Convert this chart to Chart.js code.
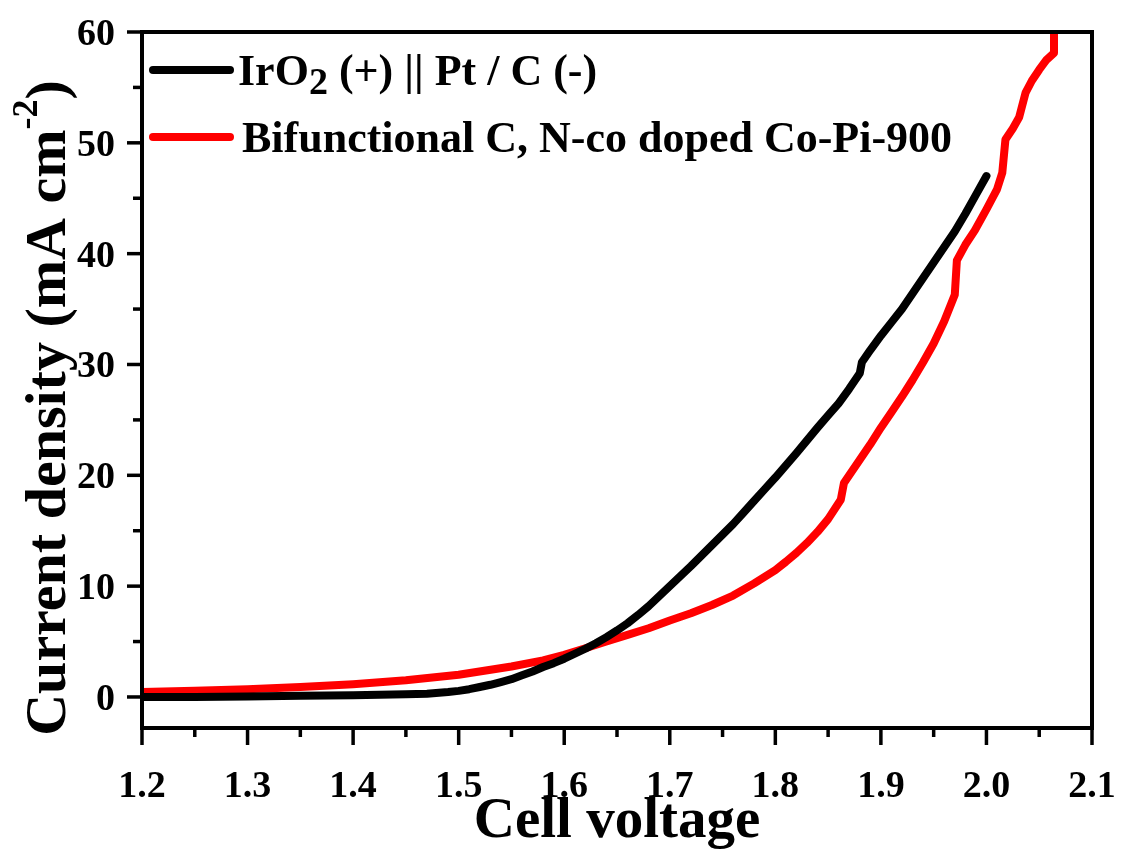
<!DOCTYPE html>
<html>
<head>
<meta charset="utf-8">
<script src="https://cdn.jsdelivr.net/npm/chart.js@4.4.1/dist/chart.umd.min.js"></script>
<style>
  html, body { margin: 0; padding: 0; background: #fff; }
  #wrap { width: 1124px; height: 849px; }
</style>
</head>
<body>
<div id="wrap"><canvas id="jv"></canvas></div>
<script>
// Data
const voltageIrO2 = [1.2, 1.25, 1.3, 1.35, 1.4, 1.45, 1.47, 1.49, 1.5, 1.51, 1.52, 1.53, 1.54, 1.55, 1.56, 1.57, 1.58, 1.59, 1.6, 1.61, 1.62, 1.63, 1.64, 1.65, 1.66, 1.67, 1.68, 1.69, 1.7, 1.71, 1.72, 1.73, 1.74, 1.75, 1.76, 1.77, 1.78, 1.79, 1.8, 1.81, 1.82, 1.83, 1.84, 1.85, 1.86, 1.87, 1.88, 1.882, 1.89, 1.9, 1.91, 1.92, 1.93, 1.94, 1.95, 1.96, 1.97, 1.98, 1.99, 2.0];
const currentIrO2 = [0.0, 0.0, 0.05, 0.1, 0.15, 0.25, 0.3, 0.45, 0.55, 0.7, 0.9, 1.1, 1.35, 1.6, 1.95, 2.3, 2.7, 3.05, 3.45, 3.9, 4.35, 4.85, 5.4, 6.0, 6.65, 7.4, 8.2, 9.1, 10.0, 10.9, 11.8, 12.75, 13.7, 14.65, 15.6, 16.65, 17.7, 18.75, 19.8, 20.9, 22.0, 23.15, 24.3, 25.4, 26.5, 27.8, 29.2, 30.2, 31.3, 32.6, 33.8, 35.0, 36.4, 37.8, 39.2, 40.6, 42.0, 43.6, 45.3, 47.0];

const voltageCoPi = [1.2, 1.25, 1.3, 1.35, 1.4, 1.45, 1.5, 1.55, 1.58, 1.6, 1.62, 1.64, 1.66, 1.68, 1.7, 1.72, 1.74, 1.76, 1.78, 1.8, 1.81, 1.82, 1.83, 1.84, 1.85, 1.862, 1.865, 1.87, 1.88, 1.89, 1.9, 1.91, 1.92, 1.93, 1.94, 1.95, 1.96, 1.97, 1.972, 1.98, 1.989, 2.0, 2.01, 2.015, 2.018, 2.025, 2.031, 2.037, 2.043, 2.05, 2.057, 2.064, 2.064];
const currentCoPi = [0.45, 0.55, 0.7, 0.9, 1.15, 1.5, 2.0, 2.75, 3.3, 3.8, 4.4, 5.0, 5.6, 6.2, 6.9, 7.55, 8.3, 9.15, 10.25, 11.45, 12.2, 13.0, 13.9, 14.9, 16.05, 17.8, 19.3, 20.0, 21.4, 22.8, 24.3, 25.7, 27.1, 28.6, 30.2, 31.9, 33.9, 36.3, 39.4, 40.8, 42.1, 44.0, 45.8, 47.3, 50.3, 51.3, 52.3, 54.5, 55.6, 56.6, 57.5, 58.1, 62.0];

const seriesNames = ['IrO2 (+) || Pt / C (-)', 'Bifunctional C, N-co doped Co-Pi-900'];
const seriesColors = ['#000000', '#ff0000'];

const xTicks = [1.2, 1.25, 1.3, 1.35, 1.4, 1.45, 1.5, 1.55, 1.6, 1.65, 1.7, 1.75, 1.8, 1.85, 1.9, 1.95, 2.0, 2.05, 2.1];
const yTicks = [0, 5, 10, 15, 20, 25, 30, 35, 40, 45, 50, 55, 60];

const serif = '"Liberation Serif", "Times New Roman", serif';

function toPoints(xs, ys) {
    return xs.map((v, i) => ({ x: v, y: ys[i] }));
}

const isMajorX = v => Math.round(v * 100) % 10 === 0;
const isMajorY = v => v % 10 === 0;

// frame, tick marks, tick labels, titles and legend
const decorations = {
    id: 'decorations',
    afterDraw(chart) {
        const { ctx, chartArea: a, scales: { x, y } } = chart;
        ctx.save();
        ctx.strokeStyle = '#000';
        ctx.fillStyle = '#000';
        ctx.lineWidth = 4;
        ctx.strokeRect(a.left, a.top, a.right - a.left, a.bottom - a.top);

        ctx.lineWidth = 3.5;
        ctx.font = 'bold 38px ' + serif;
        x.ticks.forEach(t => {
            const px = x.getPixelForValue(t.value);
            const major = isMajorX(t.value);
            ctx.beginPath();
            ctx.moveTo(px, a.bottom);
            ctx.lineTo(px, a.bottom + (major ? 17 : 9));
            ctx.stroke();
            if (major) {
                ctx.textAlign = 'center';
                ctx.textBaseline = 'alphabetic';
                ctx.fillText(t.value.toFixed(1), px, a.bottom + 69);
            }
        });
        y.ticks.forEach(t => {
            const py = y.getPixelForValue(t.value);
            const major = isMajorY(t.value);
            ctx.beginPath();
            ctx.moveTo(a.left, py);
            ctx.lineTo(a.left - (major ? 15 : 9), py);
            ctx.stroke();
            if (major) {
                ctx.textAlign = 'right';
                ctx.textBaseline = 'alphabetic';
                ctx.fillText(String(t.value), a.left - 27, py + 13);
            }
        });

        // x title
        ctx.font = 'bold 57px ' + serif;
        ctx.textAlign = 'center';
        ctx.textBaseline = 'alphabetic';
        ctx.fillText('Cell voltage', (a.left + a.right) / 2, 837);

        // y title with superscript
        ctx.save();
        ctx.translate(65, 408);
        ctx.rotate(-Math.PI / 2);
        ctx.textAlign = 'left';
        const big = 'bold 58px ' + serif;
        const small = 'bold 36px ' + serif;
        ctx.font = big;
        const p1 = 'Current density (mA cm';
        const w1 = ctx.measureText(p1).width;
        const w3 = ctx.measureText(')').width;
        ctx.font = small;
        const w2 = ctx.measureText('-2').width;
        let cx = -(w1 + w2 + w3) / 2;
        ctx.font = big;
        ctx.fillText(p1, cx, 0);
        cx += w1;
        ctx.font = small;
        ctx.fillText('-2', cx, -28);
        cx += w2;
        ctx.font = big;
        ctx.fillText(')', cx, 0);
        ctx.restore();

        // legend
        const rows = [70, 137];
        const bases = [85, 152];
        ctx.lineWidth = 8;
        ctx.lineCap = 'round';
        rows.forEach((ry, i) => {
            ctx.strokeStyle = seriesColors[i];
            ctx.beginPath();
            ctx.moveTo(153, ry);
            ctx.lineTo(230, ry);
            ctx.stroke();
        });
        ctx.textAlign = 'left';
        ctx.font = 'bold 44px ' + serif;
        let lx = 238;
        ctx.fillText('IrO', lx, bases[0]);
        lx += ctx.measureText('IrO').width;
        ctx.font = 'bold 38px ' + serif;
        ctx.fillText('2', lx, bases[0] + 9);
        lx += ctx.measureText('2').width;
        ctx.font = 'bold 44px ' + serif;
        ctx.fillText(' (+) || Pt / C (-)', lx, bases[0]);
        ctx.fillText(seriesNames[1], 242, bases[1]);
        ctx.restore();
    }
};

new Chart(document.getElementById('jv'), {
    type: 'line',
    data: {
        datasets: [{
            label: seriesNames[0],
            data: toPoints(voltageIrO2, currentIrO2),
            borderColor: seriesColors[0],
            borderWidth: 8,
            pointRadius: 0,
            tension: 0,
            borderCapStyle: 'round',
            borderJoinStyle: 'round',
            clip: 0
        }, {
            label: seriesNames[1],
            data: toPoints(voltageCoPi, currentCoPi),
            borderColor: seriesColors[1],
            borderWidth: 8,
            pointRadius: 0,
            tension: 0,
            borderCapStyle: 'round',
            borderJoinStyle: 'round',
            clip: 0
        }]
    },
    options: {
        responsive: true,
        maintainAspectRatio: false,
        animation: false,
        layout: { padding: { top: 32, right: 32, left: 0, bottom: 0 } },
        plugins: {
            legend: { display: false },
            tooltip: { enabled: false }
        },
        scales: {
            x: {
                type: 'linear',
                min: 1.2,
                max: 2.1,
                afterBuildTicks: scale => { scale.ticks = xTicks.map(v => ({ value: v })); },
                afterFit: scale => { scale.height = 121; },
                grid: { display: false },
                border: { display: false },
                ticks: { display: false }
            },
            y: {
                min: -2.8,
                max: 60,
                afterBuildTicks: scale => { scale.ticks = yTicks.map(v => ({ value: v })); },
                afterFit: scale => { scale.width = 142; },
                grid: { display: false },
                border: { display: false },
                ticks: { display: false }
            }
        }
    },
    plugins: [decorations]
});
</script>
</body>
</html>
